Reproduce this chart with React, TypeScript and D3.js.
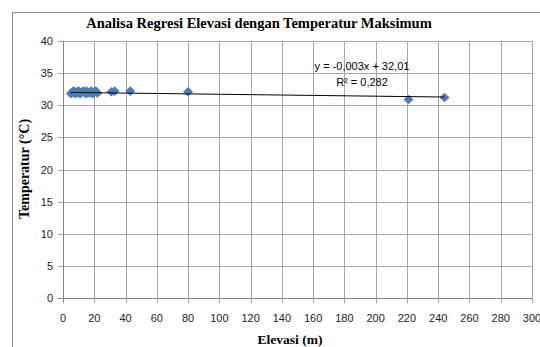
import React from "react";
import * as d3 from "d3";

// data
const elevasi = [5, 6, 7, 7, 8, 9, 10, 10, 11, 12, 13, 14, 15, 15, 16, 17, 18, 19, 20, 21, 22, 31, 33, 43, 80, 221, 244];
const temperatur = [31.8, 32.1, 31.9, 32.2, 31.8, 32.1, 31.9, 32.2, 31.8, 32.0, 32.2, 31.9, 31.8, 32.2, 32.0, 31.9, 32.2, 31.8, 32.1, 32.2, 31.9, 32.1, 32.2, 32.2, 32.1, 30.9, 31.2];
const xTicks = d3.range(0, 301, 20);
const yTicks = d3.range(0, 41, 5);
const slope = -0.003;
const intercept = 32.01;
const eqLabel = "y = -0,003x + 32,01";
const r2Label = "R² = 0,282";

export default function App() {
  const width = 540, height = 347;
  const left = 63, right = 532, top = 41, bottom = 298;

  const x = d3.scaleLinear().domain([0, 300]).range([left, right]);
  const y = d3.scaleLinear().domain([0, 40]).range([bottom, top]);

  const points = elevasi.map((e, i) => ({ e, t: temperatur[i] }));
  const x0 = d3.min(elevasi) as number;
  const x1 = d3.max(elevasi) as number;
  const trend = d3.line<number>().x(v => x(v)).y(v => y(slope * v + intercept))([x0, x1]);

  // Excel style diamond, a bit wider than d3's symbolDiamond
  const diamond = "M0,-4.8L5,0L0,4.8L-5,0Z";
  const sans = "'Liberation Sans', Arial, sans-serif";
  const serif = "'Liberation Serif', 'Times New Roman', serif";

  return (
    <svg width={width} height={height} style={{ position: "absolute", left: 0, top: 0, background: "#fff" }}>
      {/* chart border */}
      <rect x={12.5} y={12.5} width={600} height={400} fill="none" stroke="#8c8c8c" />

      <text x={259} y={28} textAnchor="middle" fontFamily={serif} fontWeight="bold" fontSize={14.5}>
        Analisa Regresi Elevasi dengan Temperatur Maksimum
      </text>

      {/* grid */}
      {yTicks.map(t => (
        <line key={"gy" + t} x1={left - 5} x2={right} y1={Math.round(y(t)) + 0.5} y2={Math.round(y(t)) + 0.5} stroke="#a6a6a6" />
      ))}
      {xTicks.map(t => (
        <line key={"gx" + t} x1={Math.round(x(t)) + 0.5} x2={Math.round(x(t)) + 0.5} y1={top} y2={bottom + 5} stroke="#a6a6a6" />
      ))}
      <line x1={left + 0.5} x2={left + 0.5} y1={top} y2={bottom + 5} stroke="#868686" />
      <line x1={left - 5} x2={right} y1={bottom + 0.5} y2={bottom + 0.5} stroke="#868686" />

      {/* tick labels */}
      {yTicks.map(t => (
        <text key={"ly" + t} x={53} y={y(t) + 4} textAnchor="end" fontFamily={sans} fontSize={11} fill="#222">{t}</text>
      ))}
      {xTicks.map(t => (
        <text key={"lx" + t} x={x(t)} y={322} textAnchor="middle" fontFamily={sans} fontSize={11} fill="#222">{t}</text>
      ))}

      {/* axis titles */}
      <text x={290} y={344} textAnchor="middle" fontFamily={serif} fontWeight="bold" fontSize={13.5}>Elevasi (m)</text>
      <text transform={`translate(29,169) rotate(-90)`} textAnchor="middle" fontFamily={serif} fontWeight="bold" fontSize={14}>
        Temperatur (°C)
      </text>

      {/* points */}
      {points.map((p, i) => (
        <path key={"p" + i} d={diamond} transform={`translate(${x(p.e)},${y(p.t)})`} fill="#4a7ebb" />
      ))}

      {/* trendline */}
      <path d={trend as string} fill="none" stroke="#000" strokeWidth={1} />

      <text x={362} y={70} textAnchor="middle" fontFamily={sans} fontSize={11}>{eqLabel}</text>
      <text x={362} y={86} textAnchor="middle" fontFamily={sans} fontSize={11}>{r2Label}</text>
    </svg>
  );
}
